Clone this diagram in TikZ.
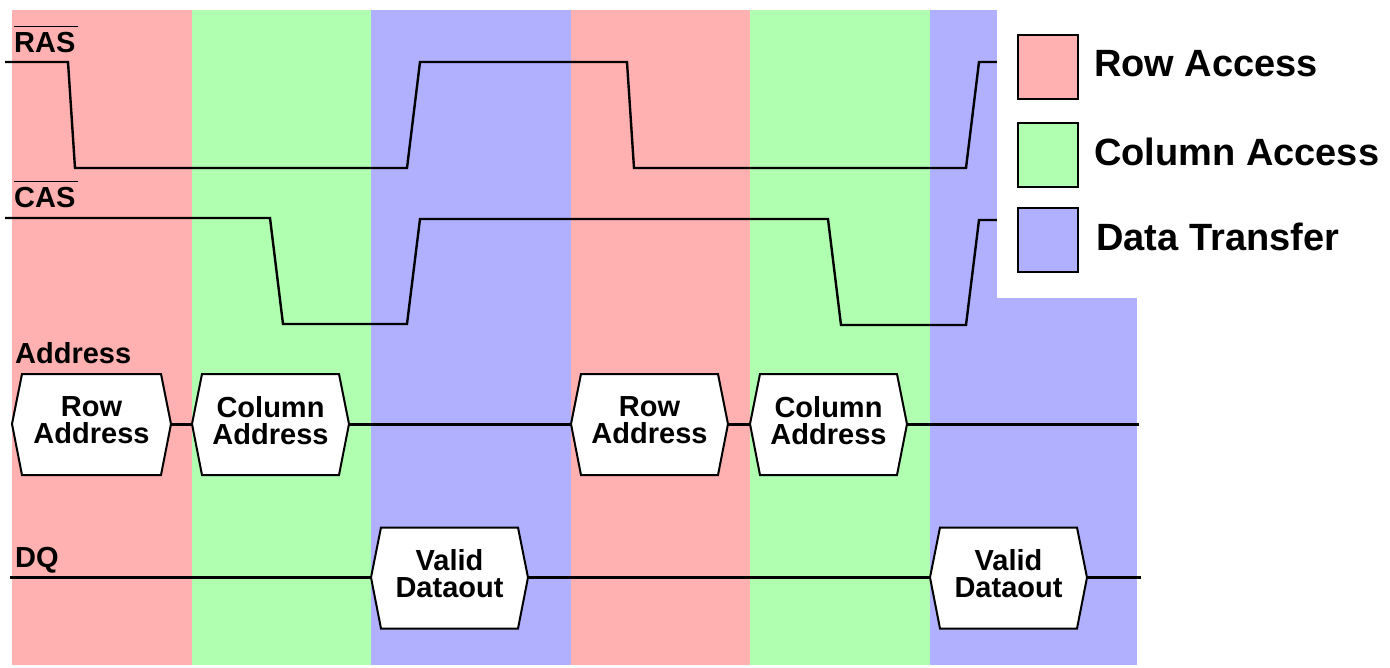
\documentclass[tikz,border=0pt]{standalone}
\usepackage{fontspec}
\setmainfont{Liberation Sans}
\definecolor{rowc}{RGB}{255,176,176}
\definecolor{colc}{RGB}{176,255,176}
\definecolor{datc}{RGB}{176,176,255}
\begin{document}
\begin{tikzpicture}[x=1pt,y=-1pt,
  sig/.style={line width=2.4pt,line join=miter},
  bus/.style={line width=3pt},
  ovl/.style={line width=1.6pt},
  hexline/.style={draw=black,line width=2pt,fill=white,line join=miter},
  hextext/.style={inner sep=0pt,align=center,font=\fontsize{29}{27}\selectfont\bfseries},
  lab/.style={anchor=base west,inner sep=0pt,font=\fontsize{29}{30}\selectfont\bfseries},
  legbox/.style={draw=black,line width=1.5pt,minimum width=60pt,minimum height=64pt,inner sep=0pt},
  legtext/.style={anchor=west,inner sep=0pt,font=\fontsize{38}{40}\selectfont\bfseries}]
\useasboundingbox (0,0) rectangle (1390,667);
\fill[white] (0,0) rectangle (1390,667);
% bands
\fill[rowc] (12,10) rectangle (192,665);
\fill[colc] (192,10) rectangle (371,665);
\fill[datc] (371,10) rectangle (571,665);
\fill[rowc] (571,10) rectangle (750,665);
\fill[colc] (750,10) rectangle (930,665);
\fill[datc] (930,10) rectangle (1137,665);
% RAS
\draw[sig] (5,62) -- (68,62) -- (75,168) -- (407,168) -- (420,62) -- (627,62) -- (634,168) -- (966,168) -- (979,62) -- (997,62);
% CAS
\draw[sig] (5,218) -- (270,218) -- (283,324) -- (407,324) -- (420,219) -- (828,219) -- (841,325) -- (966,325) -- (979,220) -- (997,220);
% legend area
\fill[white] (997,0) rectangle (1390,298);
% labels
\node[lab] (ras) at (14,52) {RAS};
\node[lab] (cas) at (14,207) {CAS};
\draw[ovl] ([yshift=5pt]ras.north west) -- ([yshift=5pt,xshift=2pt]ras.north east);
\draw[ovl] ([yshift=5pt]cas.north west) -- ([yshift=5pt,xshift=2pt]cas.north east);
\node[lab] (addr) at (15,363) {Address};
\node[lab] (dq) at (15,567) {DQ};
% hexagon macro
\newcommand\hexbox[5]{%
  \draw[hexline] (#2,#4) -- (#2+10,#4-50) -- (#3-10,#4-50) -- (#3,#4) -- (#3-10,#4+51) -- (#2+10,#4+51) -- cycle;
  \node[inner sep=0pt,minimum width=#3-#2,minimum height=100,
        label={[hextext,yshift=3.5pt]center:#5}] (#1) at ({(#2+#3)/2},#4) {};}
\hexbox{ra1}{12}{171}{424}{Row\\Address}
\hexbox{ca1}{192}{349}{424}{Column\\Address}
\hexbox{ra2}{571}{728}{424}{Row\\Address}
\hexbox{ca2}{750}{907}{424}{Column\\Address}
\hexbox{dv1}{371}{528}{577.5}{Valid\\Dataout}
\hexbox{dv2}{930}{1087}{577.5}{Valid\\Dataout}
\coordinate (busend) at (1139,424);
\coordinate (dqstart) at (10,577.5);
\coordinate (dqend) at (1141,577.5);
\draw[bus] (ra1.east) -- (ca1.west);
\draw[bus] (ca1.east) -- (ra2.west);
\draw[bus] (ra2.east) -- (ca2.west);
\draw[bus] (ca2.east) -- (busend);
\draw[bus] (dqstart) -- (dv1.west);
\draw[bus] (dv1.east) -- (dv2.west);
\draw[bus] (dv2.east) -- (dqend);
% legend
\node[legbox,fill=rowc] (lr) at (1048,67) {};
\node[legbox,fill=colc] (lc) at (1048,155) {};
\node[legbox,fill=datc] (ld) at (1048,240) {};
\node[legtext] (tr) at (1094,64) {Row Access};
\node[legtext] (tc) at (1094,152) {Column Access};
\node[legtext] (td) at (1096,237) {Data Transfer};
\end{tikzpicture}
\end{document}
